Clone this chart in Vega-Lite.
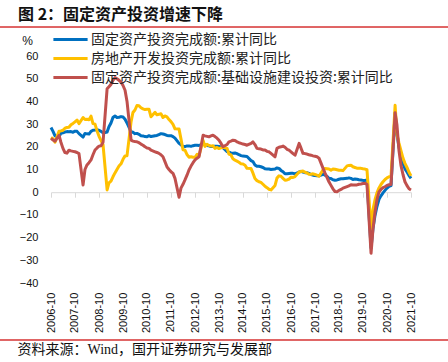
{
  "$schema": "https://vega.github.io/schema/vega-lite/v6.json",
  "width": 360,
  "height": 227,
  "autosize": {"type": "none"},
  "padding": {"left": 51, "top": 56, "right": 37, "bottom": 79},
  "background": "white",
  "config": {"view": {"stroke": null}, "axis": {"labelOverlap": false}},
  "title": {"text": "图 2：固定资产投资增速下降", "anchor": "start", "frame": "group", "dx": -33, "offset": 3, "font": "Noto Sans CJK SC", "fontSize": 16, "fontWeight": "bold", "color": "#111111"},
  "data": {"values": [
    {"d":"2006-10","a":28.5,"b":24.1,"c":23.7},{"d":"2006-11","a":26.8,"b":23.5,"c":23.0},{"d":"2006-12","a":24.8,"b":22.0,"c":22.5},
    {"d":"2007-02","a":24.5,"b":26.9,"c":25.0},{"d":"2007-03","a":26.0,"b":27.0,"c":22.0},{"d":"2007-04","a":26.2,"b":27.3,"c":19.3},{"d":"2007-05","a":26.5,"b":28.2,"c":17.5},{"d":"2007-06","a":26.7,"b":28.5,"c":17.2},{"d":"2007-07","a":26.6,"b":28.6,"c":18.5},{"d":"2007-08","a":26.7,"b":29.7,"c":18.2},{"d":"2007-09","a":26.4,"b":30.3,"c":18.0},{"d":"2007-10","a":26.9,"b":31.0,"c":17.8},{"d":"2007-11","a":26.8,"b":31.8,"c":17.5},{"d":"2007-12","a":25.8,"b":30.2,"c":17.0},
    {"d":"2008-02","a":24.3,"b":32.9,"c":3.2},{"d":"2008-03","a":25.9,"b":32.0,"c":10.0},{"d":"2008-04","a":25.7,"b":32.1,"c":12.0},{"d":"2008-05","a":25.6,"b":31.9,"c":13.0},{"d":"2008-06","a":26.8,"b":33.5,"c":14.2},{"d":"2008-07","a":27.3,"b":30.2,"c":16.5},{"d":"2008-08","a":27.4,"b":30.0,"c":18.6},{"d":"2008-09","a":27.6,"b":27.0,"c":19.5},{"d":"2008-10","a":27.2,"b":24.6,"c":20.3},{"d":"2008-11","a":26.8,"b":22.7,"c":20.5},{"d":"2008-12","a":26.1,"b":20.9,"c":22.0},
    {"d":"2009-02","a":26.5,"b":1.0,"c":45.6},{"d":"2009-03","a":28.8,"b":4.1,"c":46.5},{"d":"2009-04","a":30.5,"b":4.9,"c":47.5},{"d":"2009-05","a":32.9,"b":6.8,"c":49.3},{"d":"2009-06","a":33.6,"b":8.5,"c":50.5},{"d":"2009-07","a":32.9,"b":10.0,"c":50.0},{"d":"2009-08","a":33.0,"b":11.5,"c":49.3},{"d":"2009-09","a":33.3,"b":12.5,"c":48.5},{"d":"2009-10","a":33.1,"b":14.5,"c":47.0},{"d":"2009-11","a":32.1,"b":16.0,"c":44.9},{"d":"2009-12","a":30.5,"b":16.1,"c":40.0},
    {"d":"2010-02","a":26.6,"b":31.1,"c":22.9},{"d":"2010-03","a":26.4,"b":35.1,"c":22.5},{"d":"2010-04","a":25.8,"b":36.2,"c":22.3},{"d":"2010-05","a":25.9,"b":38.2,"c":22.2},{"d":"2010-06","a":25.5,"b":38.1,"c":21.8},{"d":"2010-07","a":24.9,"b":37.2,"c":21.2},{"d":"2010-08","a":24.8,"b":36.7,"c":20.7},{"d":"2010-09","a":24.5,"b":36.4,"c":20.0},{"d":"2010-10","a":24.4,"b":36.5,"c":19.5},{"d":"2010-11","a":24.9,"b":36.5,"c":19.3},{"d":"2010-12","a":24.5,"b":33.2,"c":18.5},
    {"d":"2011-02","a":24.9,"b":35.2,"c":17.8},{"d":"2011-03","a":25.0,"b":34.1,"c":17.5},{"d":"2011-04","a":25.4,"b":34.3,"c":17.1},{"d":"2011-05","a":25.8,"b":34.6,"c":16.5},{"d":"2011-06","a":25.6,"b":32.9,"c":15.6},{"d":"2011-07","a":25.4,"b":33.6,"c":13.5},{"d":"2011-08","a":25.0,"b":33.2,"c":11.2},{"d":"2011-09","a":24.9,"b":32.0,"c":10.0},{"d":"2011-10","a":24.9,"b":31.1,"c":9.0},{"d":"2011-11","a":24.5,"b":29.9,"c":8.3},{"d":"2011-12","a":23.8,"b":27.9,"c":6.1},
    {"d":"2012-02","a":21.5,"b":27.8,"c":-2.2},{"d":"2012-03","a":20.9,"b":23.5,"c":1.8},{"d":"2012-04","a":20.2,"b":18.7,"c":3.5},{"d":"2012-05","a":20.1,"b":18.5,"c":5.4},{"d":"2012-06","a":20.4,"b":16.6,"c":7.5},{"d":"2012-07","a":20.4,"b":15.4,"c":9.8},{"d":"2012-08","a":20.2,"b":15.6,"c":11.5},{"d":"2012-09","a":20.5,"b":15.4,"c":13.0},{"d":"2012-10","a":20.7,"b":15.4,"c":14.2},{"d":"2012-11","a":20.7,"b":16.7,"c":15.0},{"d":"2012-12","a":20.6,"b":16.2,"c":15.6},
    {"d":"2013-02","a":21.2,"b":22.8,"c":25.1},{"d":"2013-03","a":20.9,"b":20.2,"c":24.8},{"d":"2013-04","a":20.6,"b":21.1,"c":24.6},{"d":"2013-05","a":20.4,"b":20.6,"c":24.4},{"d":"2013-06","a":20.1,"b":20.3,"c":24.8},{"d":"2013-07","a":20.1,"b":20.5,"c":25.1},{"d":"2013-08","a":20.3,"b":19.3,"c":24.5},{"d":"2013-09","a":20.2,"b":19.7,"c":23.8},{"d":"2013-10","a":20.1,"b":19.2,"c":22.9},{"d":"2013-11","a":19.9,"b":19.5,"c":21.5},{"d":"2013-12","a":19.6,"b":19.8,"c":20.0},
    {"d":"2014-02","a":17.9,"b":19.3,"c":21.0},{"d":"2014-03","a":17.6,"b":16.8,"c":22.2},{"d":"2014-04","a":17.3,"b":16.4,"c":22.5},{"d":"2014-05","a":17.2,"b":14.7,"c":22.9},{"d":"2014-06","a":17.3,"b":14.1,"c":22.8},{"d":"2014-07","a":17.0,"b":13.7,"c":22.2},{"d":"2014-08","a":16.5,"b":13.2,"c":21.8},{"d":"2014-09","a":16.1,"b":12.5,"c":21.5},{"d":"2014-10","a":15.9,"b":12.4,"c":21.2},{"d":"2014-11","a":15.8,"b":11.9,"c":21.0},{"d":"2014-12","a":15.7,"b":10.5,"c":20.7},
    {"d":"2015-02","a":13.9,"b":10.4,"c":21.5},{"d":"2015-03","a":13.5,"b":8.5,"c":22.2},{"d":"2015-04","a":12.0,"b":6.0,"c":21.0},{"d":"2015-05","a":11.4,"b":5.1,"c":19.3},{"d":"2015-06","a":11.4,"b":4.6,"c":19.1},{"d":"2015-07","a":11.2,"b":4.3,"c":19.0},{"d":"2015-08","a":10.9,"b":3.5,"c":18.6},{"d":"2015-09","a":10.3,"b":2.6,"c":18.6},{"d":"2015-10","a":10.2,"b":2.0,"c":18.0},{"d":"2015-11","a":10.2,"b":1.3,"c":17.8},{"d":"2015-12","a":10.0,"b":1.0,"c":17.1},
    {"d":"2016-02","a":10.2,"b":3.0,"c":15.6},{"d":"2016-03","a":10.7,"b":6.2,"c":19.3},{"d":"2016-04","a":10.5,"b":7.2,"c":19.8},{"d":"2016-05","a":9.6,"b":7.0,"c":20.0},{"d":"2016-06","a":9.0,"b":6.1,"c":20.3},{"d":"2016-07","a":8.1,"b":5.3,"c":19.8},{"d":"2016-08","a":8.1,"b":5.4,"c":18.9},{"d":"2016-09","a":8.2,"b":5.8,"c":18.5},{"d":"2016-10","a":8.3,"b":6.6,"c":17.8},{"d":"2016-11","a":8.3,"b":6.5,"c":17.0},{"d":"2016-12","a":8.1,"b":6.9,"c":16.3},
    {"d":"2017-02","a":8.9,"b":8.9,"c":21.5},{"d":"2017-03","a":9.2,"b":9.1,"c":19.5},{"d":"2017-04","a":8.9,"b":9.3,"c":17.1},{"d":"2017-05","a":8.6,"b":8.8,"c":17.0},{"d":"2017-06","a":8.6,"b":8.5,"c":16.8},{"d":"2017-07","a":8.3,"b":7.9,"c":16.5},{"d":"2017-08","a":7.8,"b":7.9,"c":16.3},{"d":"2017-09","a":7.5,"b":8.1,"c":16.0},{"d":"2017-10","a":7.3,"b":7.8,"c":15.8},{"d":"2017-11","a":7.2,"b":7.5,"c":15.6},{"d":"2017-12","a":7.2,"b":7.0,"c":15.0},
    {"d":"2018-02","a":7.9,"b":9.9,"c":10.5},{"d":"2018-03","a":7.5,"b":10.4,"c":8.5},{"d":"2018-04","a":7.0,"b":10.3,"c":6.5},{"d":"2018-05","a":6.1,"b":10.2,"c":4.6},{"d":"2018-06","a":6.0,"b":9.7,"c":3.0},{"d":"2018-07","a":5.5,"b":10.2,"c":1.5},{"d":"2018-08","a":5.3,"b":10.1,"c":0.3},{"d":"2018-09","a":5.4,"b":9.9,"c":0.2},{"d":"2018-10","a":5.7,"b":9.7,"c":0.8},{"d":"2018-11","a":5.9,"b":9.7,"c":1.2},{"d":"2018-12","a":5.9,"b":9.5,"c":1.8},
    {"d":"2019-02","a":6.1,"b":11.6,"c":2.5},{"d":"2019-03","a":6.3,"b":11.8,"c":2.8},{"d":"2019-04","a":6.1,"b":11.9,"c":3.3},{"d":"2019-05","a":5.6,"b":11.2,"c":3.2},{"d":"2019-06","a":5.8,"b":10.9,"c":3.2},{"d":"2019-07","a":5.7,"b":10.6,"c":3.2},{"d":"2019-08","a":5.5,"b":10.5,"c":3.5},{"d":"2019-09","a":5.4,"b":10.5,"c":3.6},{"d":"2019-10","a":5.2,"b":10.3,"c":3.8},{"d":"2019-11","a":5.2,"b":10.2,"c":3.9},{"d":"2019-12","a":5.4,"b":9.9,"c":3.5},
    {"d":"2020-02","a":-24.5,"b":-16.3,"c":-26.9},{"d":"2020-03","a":-16.1,"b":-7.7,"c":-16.4},{"d":"2020-04","a":-10.3,"b":-3.3,"c":-8.8},{"d":"2020-05","a":-6.3,"b":-0.3,"c":-3.3},{"d":"2020-06","a":-3.1,"b":1.9,"c":0.1},{"d":"2020-07","a":-1.6,"b":3.4,"c":1.2},{"d":"2020-08","a":-0.3,"b":4.6,"c":2.0},{"d":"2020-09","a":0.8,"b":5.6,"c":2.4},{"d":"2020-10","a":1.8,"b":6.3,"c":3.0},{"d":"2020-11","a":2.6,"b":6.8,"c":3.3},{"d":"2020-12","a":2.9,"b":7.0,"c":3.4},
    {"d":"2021-02","a":35.0,"b":38.3,"c":35.0},{"d":"2021-03","a":25.6,"b":25.6,"c":29.7},{"d":"2021-04","a":19.9,"b":21.6,"c":18.4},{"d":"2021-05","a":15.4,"b":18.3,"c":11.8},{"d":"2021-06","a":12.6,"b":15.0,"c":7.8},{"d":"2021-07","a":10.3,"b":12.7,"c":4.6},{"d":"2021-08","a":8.9,"b":10.9,"c":2.9},{"d":"2021-09","a":7.3,"b":8.8,"c":1.5},{"d":"2021-10","a":6.1,"b":7.2,"c":1.0}
  ]},
  "layer": [
    {
      "transform": [{"fold": ["a", "b", "c"], "as": ["s", "v"]}],
      "mark": {"type": "line", "strokeWidth": 3, "strokeJoin": "round"},
      "encoding": {
        "x": {"field": "d", "type": "temporal",
          "scale": {"type": "utc", "domain": [{"year": 2006, "month": 10, "date": 1, "utc": true}, {"year": 2021, "month": 10, "date": 1, "utc": true}]},
          "axis": {"orient": "bottom", "offset": -90.8, "values": [
            {"year": 2006, "month": 10, "date": 1, "utc": true},{"year": 2007, "month": 10, "date": 1, "utc": true},{"year": 2008, "month": 10, "date": 1, "utc": true},{"year": 2009, "month": 10, "date": 1, "utc": true},{"year": 2010, "month": 10, "date": 1, "utc": true},{"year": 2011, "month": 10, "date": 1, "utc": true},{"year": 2012, "month": 10, "date": 1, "utc": true},{"year": 2013, "month": 10, "date": 1, "utc": true},{"year": 2014, "month": 10, "date": 1, "utc": true},{"year": 2015, "month": 10, "date": 1, "utc": true},{"year": 2016, "month": 10, "date": 1, "utc": true},{"year": 2017, "month": 10, "date": 1, "utc": true},{"year": 2018, "month": 10, "date": 1, "utc": true},{"year": 2019, "month": 10, "date": 1, "utc": true},{"year": 2020, "month": 10, "date": 1, "utc": true},{"year": 2021, "month": 10, "date": 1, "utc": true}],
            "format": "%Y-%m", "labelAngle": -90, "labelAlign": "right", "labelBaseline": "middle", "labelPadding": 95,
            "labelFont": "Liberation Sans", "labelFontSize": 11, "labelColor": "#111111", "labelOverlap": false, "labelFlush": false,
            "domain": true, "domainColor": "#D9D9D9", "domainWidth": 1, "ticks": true, "tickColor": "#D9D9D9", "tickSize": 5, "tickWidth": 1, "grid": false,
            "title": "资料来源：Wind，国开证券研究与发展部", "titleX": -34, "titleY": 157, "titleAlign": "left", "titleAnchor": "start", "titleBaseline": "middle",
            "titleFont": "Liberation Serif, Noto Sans CJK SC", "titleFontSize": 14, "titleFontWeight": "normal", "titleColor": "#111111"}},
        "y": {"field": "v", "type": "quantitative", "title": "%",
          "scale": {"domain": [-40, 60], "nice": false},
          "axis": {"values": [-40, -30, -20, -10, 0, 10, 20, 30, 40, 50, 60], "labelOverlap": false, "domain": false, "ticks": false, "grid": false,
            "labelFont": "Liberation Sans", "labelFontSize": 11, "labelColor": "#111111", "labelPadding": 13,
            "titleAngle": 0, "titleX": -24, "titleY": -16, "titleAlign": "center", "titleBaseline": "middle",
            "titleFont": "Liberation Sans", "titleFontSize": 12, "titleFontWeight": "normal", "titleColor": "#111111"}},
        "color": {"field": "s", "type": "nominal",
          "scale": {"domain": ["a", "b", "c"], "range": ["#0070C0", "#FFC000", "#C0504D"]},
          "legend": {"orient": "none", "legendX": 9, "legendY": -27, "direction": "vertical", "title": null,
            "symbolType": "M-1.9,0H1.9", "symbolSize": 324, "symbolStrokeWidth": 3, "labelFont": "Noto Sans CJK SC", "labelFontSize": 14,
            "labelColor": "#222222", "labelLimit": 400, "labelOffset": 10, "rowPadding": 1,
            "labelExpr": "datum.label == 'a' ? '固定资产投资完成额:累计同比' : datum.label == 'b' ? '房地产开发投资完成额:累计同比' : '固定资产投资完成额:基础设施建设投资:累计同比'"}}
      }
    },
    {
      "mark": {"type": "rule", "color": "#E06666", "strokeWidth": 1.3, "clip": false},
      "encoding": {
        "x": {"datum": {"year": 2004, "month": 6, "date": 1, "utc": true}, "type": "temporal",
          "axis": {"orient": "bottom", "offset": -90.8, "values": [
            {"year": 2006, "month": 10, "date": 1, "utc": true},{"year": 2007, "month": 10, "date": 1, "utc": true},{"year": 2008, "month": 10, "date": 1, "utc": true},{"year": 2009, "month": 10, "date": 1, "utc": true},{"year": 2010, "month": 10, "date": 1, "utc": true},{"year": 2011, "month": 10, "date": 1, "utc": true},{"year": 2012, "month": 10, "date": 1, "utc": true},{"year": 2013, "month": 10, "date": 1, "utc": true},{"year": 2014, "month": 10, "date": 1, "utc": true},{"year": 2015, "month": 10, "date": 1, "utc": true},{"year": 2016, "month": 10, "date": 1, "utc": true},{"year": 2017, "month": 10, "date": 1, "utc": true},{"year": 2018, "month": 10, "date": 1, "utc": true},{"year": 2019, "month": 10, "date": 1, "utc": true},{"year": 2020, "month": 10, "date": 1, "utc": true},{"year": 2021, "month": 10, "date": 1, "utc": true}],
            "format": "%Y-%m", "labelAngle": -90, "labelAlign": "right", "labelBaseline": "middle", "labelPadding": 95,
            "labelFont": "Liberation Sans", "labelFontSize": 11, "labelColor": "#111111", "labelOverlap": false, "labelFlush": false,
            "domain": true, "domainColor": "#D9D9D9", "domainWidth": 1, "ticks": true, "tickColor": "#D9D9D9", "tickSize": 5, "tickWidth": 1, "grid": false,
            "title": "资料来源：Wind，国开证券研究与发展部", "titleX": -34, "titleY": 157, "titleAlign": "left", "titleAnchor": "start", "titleBaseline": "middle",
            "titleFont": "Liberation Serif, Noto Sans CJK SC", "titleFontSize": 14, "titleFontWeight": "normal", "titleColor": "#111111"}},
        "x2": {"datum": {"year": 2023, "month": 8, "date": 1, "utc": true}},
        "y": {"datum": 72.9, "type": "quantitative", "title": "%",
          "axis": {"values": [-40, -30, -20, -10, 0, 10, 20, 30, 40, 50, 60], "labelOverlap": false, "domain": false, "ticks": false, "grid": false,
            "labelFont": "Liberation Sans", "labelFontSize": 11, "labelColor": "#111111", "labelPadding": 13,
            "titleAngle": 0, "titleX": -24, "titleY": -16, "titleAlign": "center", "titleBaseline": "middle",
            "titleFont": "Liberation Sans", "titleFontSize": 12, "titleFontWeight": "normal", "titleColor": "#111111"}}
      }
    },
    {
      "mark": {"type": "rule", "color": "#E06666", "strokeWidth": 1.3, "clip": false},
      "encoding": {
        "x": {"datum": {"year": 2004, "month": 6, "date": 1, "utc": true}, "type": "temporal",
          "axis": {"orient": "bottom", "offset": -90.8, "values": [
            {"year": 2006, "month": 10, "date": 1, "utc": true},{"year": 2007, "month": 10, "date": 1, "utc": true},{"year": 2008, "month": 10, "date": 1, "utc": true},{"year": 2009, "month": 10, "date": 1, "utc": true},{"year": 2010, "month": 10, "date": 1, "utc": true},{"year": 2011, "month": 10, "date": 1, "utc": true},{"year": 2012, "month": 10, "date": 1, "utc": true},{"year": 2013, "month": 10, "date": 1, "utc": true},{"year": 2014, "month": 10, "date": 1, "utc": true},{"year": 2015, "month": 10, "date": 1, "utc": true},{"year": 2016, "month": 10, "date": 1, "utc": true},{"year": 2017, "month": 10, "date": 1, "utc": true},{"year": 2018, "month": 10, "date": 1, "utc": true},{"year": 2019, "month": 10, "date": 1, "utc": true},{"year": 2020, "month": 10, "date": 1, "utc": true},{"year": 2021, "month": 10, "date": 1, "utc": true}],
            "format": "%Y-%m", "labelAngle": -90, "labelAlign": "right", "labelBaseline": "middle", "labelPadding": 95,
            "labelFont": "Liberation Sans", "labelFontSize": 11, "labelColor": "#111111", "labelOverlap": false, "labelFlush": false,
            "domain": true, "domainColor": "#D9D9D9", "domainWidth": 1, "ticks": true, "tickColor": "#D9D9D9", "tickSize": 5, "tickWidth": 1, "grid": false,
            "title": "资料来源：Wind，国开证券研究与发展部", "titleX": -34, "titleY": 157, "titleAlign": "left", "titleAnchor": "start", "titleBaseline": "middle",
            "titleFont": "Liberation Serif, Noto Sans CJK SC", "titleFontSize": 14, "titleFontWeight": "normal", "titleColor": "#111111"}},
        "x2": {"datum": {"year": 2023, "month": 8, "date": 1, "utc": true}},
        "y": {"datum": -65.3, "type": "quantitative", "title": "%",
          "axis": {"values": [-40, -30, -20, -10, 0, 10, 20, 30, 40, 50, 60], "labelOverlap": false, "domain": false, "ticks": false, "grid": false,
            "labelFont": "Liberation Sans", "labelFontSize": 11, "labelColor": "#111111", "labelPadding": 13,
            "titleAngle": 0, "titleX": -24, "titleY": -16, "titleAlign": "center", "titleBaseline": "middle",
            "titleFont": "Liberation Sans", "titleFontSize": 12, "titleFontWeight": "normal", "titleColor": "#111111"}}
      }
    }
  ]
}
